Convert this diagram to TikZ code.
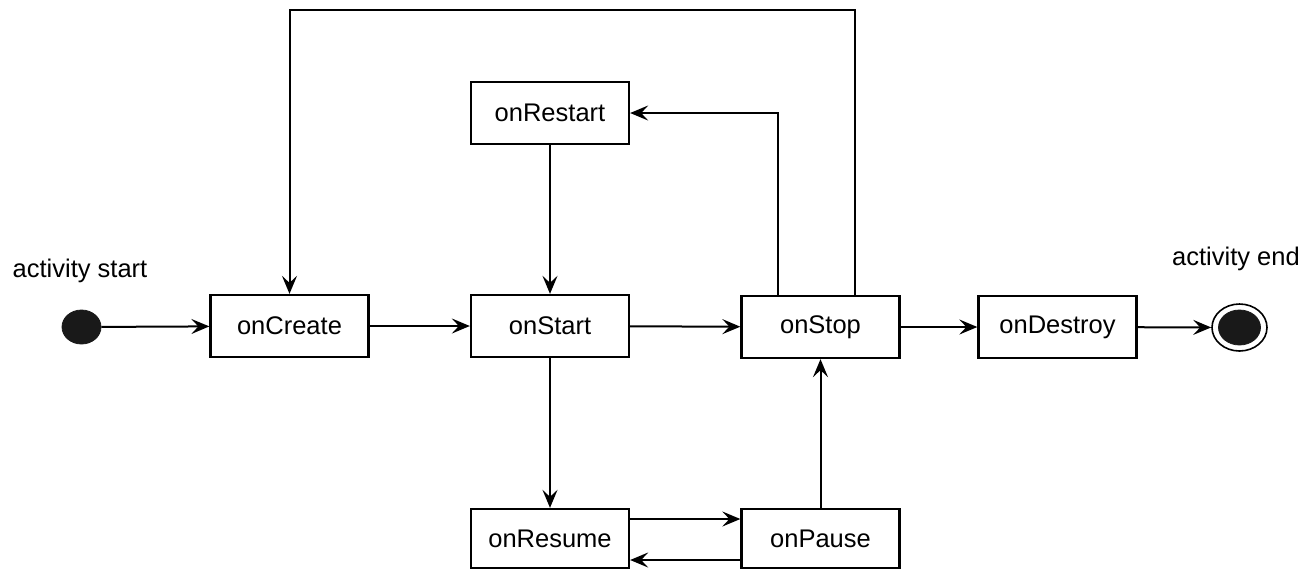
\documentclass[tikz,border=0pt]{standalone}
\usepackage{fontspec}
\setmainfont{Liberation Sans}
\usetikzlibrary{arrows.meta,shapes.geometric}
\begin{document}
\begin{tikzpicture}[x=0.5pt,y=-0.5pt,
  box/.style={draw, line width=1.15pt, minimum width=79pt, minimum height=31pt, inner sep=0pt,
    font=\fontsize{12.75pt}{15pt}\selectfont},
  lbl/.style={inner sep=0pt, font=\fontsize{12.75pt}{15pt}\selectfont},
  arr/.style={line width=1pt, -{Stealth[length=9pt, width=7.5pt, inset=3.5pt]}},
  dot/.style={ellipse, fill=black!90, draw=black!90, inner sep=0pt},
  ring/.style={ellipse, draw=black, line width=0.8pt, inner sep=0pt}]
\useasboundingbox (0,0) rectangle (1308,570);
\node[box] (create) at (289.5,326) {onCreate};
\node[box] (start) at (550,326) {onStart};
\node[box] (stop) at (820.5,327) {onStop};
\node[box] (destroy) at (1057.5,327) {onDestroy};
\node[box] (restart) at (550,113) {onRestart};
\node[box, minimum height=29.5pt] (resume) at (550,538.5) {onResume};
\node[box, minimum height=29.5pt] (pause) at (820.5,538.5) {onPause};
\node[dot, minimum width=19.5pt, minimum height=17pt] (init) at (81.5,327) {};
\node[ring, minimum width=27.5pt, minimum height=23.5pt] (finring) at (1239.5,327.5) {};
\node[dot, minimum width=21pt, minimum height=17.5pt] (fin) at (1239.5,327.5) {};
\node[lbl] (startlbl) at (80,271) {activity start};
\node[lbl] (endlbl) at (1236,259) {activity end};
\coordinate (loopR) at (855,10);
\coordinate (loopL) at (289.5,10);
\draw[arr] (init) -- (create);
\draw[arr] (create) -- (start);
\draw[arr] (start) -- (stop);
\draw[arr] (stop) -- (destroy);
\draw[arr] (destroy) -- (finring);
\draw[arr] (restart) -- (start);
\draw[arr] (start) -- (resume);
\draw[arr] ([yshift=9.75pt]resume.east) -- ([yshift=9.75pt]pause.west);
\draw[arr] ([yshift=-10.75pt]pause.west) -- ([yshift=-10.75pt]resume.east);
\draw[arr] (pause) -- (stop);
\draw[arr] ([xshift=-21.25pt]stop.north) |- (restart.east);
\draw[arr] (stop.north -| loopR) -- (loopR) -- (loopL) -- (create.north);
\end{tikzpicture}
\end{document}
